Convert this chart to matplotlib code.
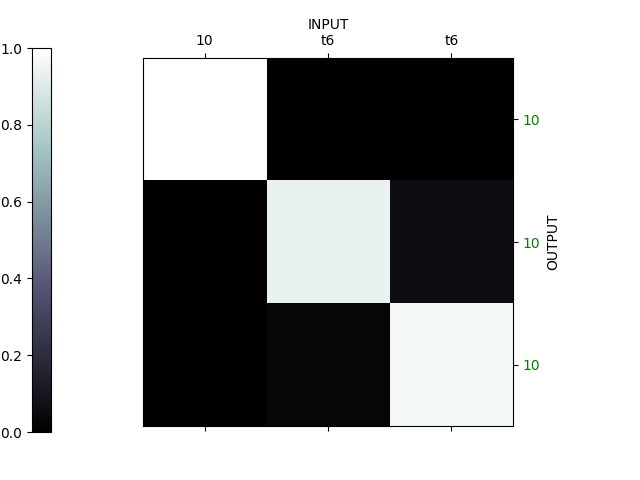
import numpy as np
import matplotlib
matplotlib.use("Agg")
import matplotlib.pyplot as plt

# confusion-style matrix, rows = OUTPUT, cols = INPUT
input_labels = ["10", "t6", "t6"]
output_labels = ["10", "10", "10"]
row0 = [1.00, 0.00, 0.00]
row1 = [0.00, 0.94, 0.06]
row2 = [0.00, 0.03, 0.97]
values = np.array([row0, row1, row2])

fig = plt.figure(figsize=(6.4, 4.8), dpi=100)
ax = fig.add_axes([0.2234, 0.1125, 0.5782, 0.7665])
cax = fig.add_axes([0.05, 0.10, 0.03, 0.80])

im = ax.imshow(values, cmap="bone", vmin=0, vmax=1, aspect="auto",
               interpolation="nearest")

ax.set_xticks(range(len(input_labels)))
ax.set_xticklabels(input_labels)
ax.xaxis.tick_top()
ax.tick_params(axis="x", bottom=True, top=True, labelbottom=False, labeltop=True)
ax.xaxis.set_label_position("top")
ax.set_xlabel("INPUT")

ax.set_yticks(range(len(output_labels)))
ax.set_yticklabels(output_labels, color="green")
ax.yaxis.tick_right()
ax.yaxis.set_label_position("right")
ax.set_ylabel("OUTPUT")

cb = fig.colorbar(im, cax=cax)
cax.yaxis.tick_left()

fig.savefig("out.png", dpi=100)
